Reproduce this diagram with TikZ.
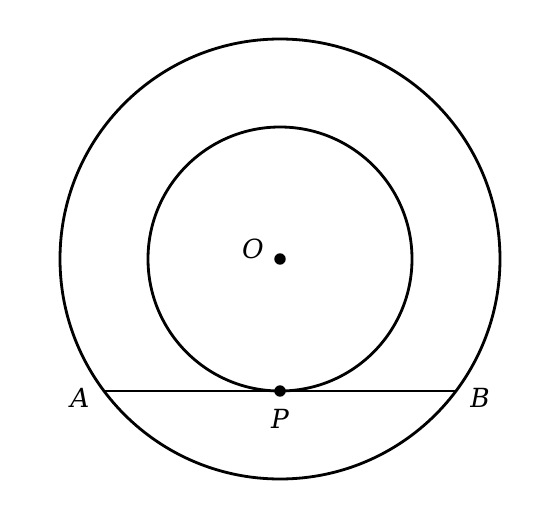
\documentclass[tikz,border=0pt]{standalone}
\usepackage{fontspec}
\setmainfont{DejaVu Serif}
\usepackage{tikz}
\usetikzlibrary{calc}
\tikzset{
  circ/.style={draw=black, line width=1.6pt},
  chord/.style={draw=black, line width=1.6pt},
  pt/.style={circle, fill=black, inner sep=2.3pt},
  lab/.style={font=\fontsize{15}{17}\selectfont\itshape}
}
\begin{document}
\begin{tikzpicture}[x=0.02cm,y=0.02cm]
  \useasboundingbox (-280,-261) rectangle (280,259);
  \coordinate (O) at (0,0);
  \coordinate (P) at (0,-132);
  \coordinate (A) at (-176,-132);
  \coordinate (B) at (176,-132);

  \draw[circ] (O) circle (220);
  \draw[circ] (O) circle (132);
  \draw[chord] (A)--(B);

  \node[pt] (o) at (O) {}; \node[pt] (p) at (P) {};
  \node[lab] at ($(O)+(-27,10)$) {O};
  \node[lab] at ($(A)+(-24,-7)$) {A};
  \node[lab] at ($(B)+(24,-7)$) {B};
  \node[lab] at ($(P)+(0,-28)$) {P};
\end{tikzpicture}
\end{document}
